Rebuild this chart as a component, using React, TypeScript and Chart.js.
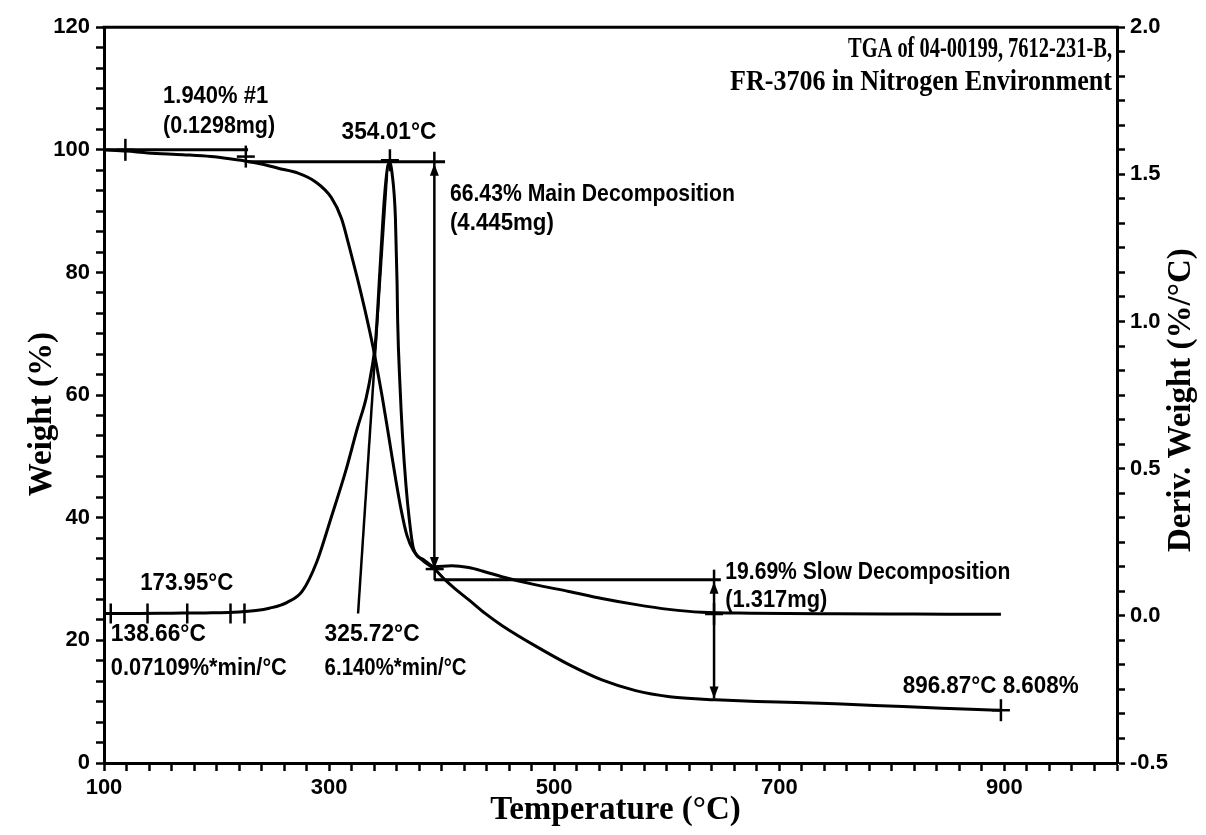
import React, { useEffect, useRef } from "react";
import { Chart, registerables } from "chart.js";

Chart.register(...registerables);

// ---------- data ----------
const weightTemps = [100, 120, 139, 170, 195, 213, 228, 242, 254.7, 272.4, 287.7, 302, 311, 317.5, 324.9, 331.3, 337.7, 342.4, 347.1, 351.8, 354.7, 359.4, 364.1, 369, 375, 384, 393.8, 402.8, 412, 424.2, 438.6, 453.8, 483.2, 513.6, 543, 572.3, 602.6, 631.8, 643.3, 680, 715.3, 750, 784.6, 830, 870, 896.87];
const weightValues = [100, 99.8, 99.5, 99.2, 98.9, 98.5, 98.1, 97.6, 97.0, 96.2, 94.8, 92.2, 88.8, 84.5, 79.2, 74.3, 69.0, 64.6, 59.8, 54.6, 51.3, 46.0, 41.2, 37.2, 34.6, 32.9, 31.6, 29.9, 28.4, 26.6, 24.4, 22.4, 19.1, 16.0, 13.5, 11.8, 10.8, 10.4, 10.3, 10.05, 9.87, 9.65, 9.38, 9.05, 8.75, 8.608];

const derivTemps = [100, 130, 160, 190, 220, 235, 246.9, 262.8, 276.0, 289.1, 302.0, 314.9, 325.2, 332.9, 338.0, 341.3, 345.2, 349.0, 351.8, 354.01, 355.8, 358.9, 360.4, 360.9, 363.0, 365.2, 368.3, 371.2, 375.0, 384.0, 393.8, 408.9, 424.0, 438.2, 453.4, 482.7, 512.9, 542.3, 571.6, 601.8, 631.1, 675.5, 750, 820, 896.87];
const derivValues = [0.008, 0.008, 0.009, 0.010, 0.013, 0.018, 0.026, 0.046, 0.083, 0.184, 0.336, 0.494, 0.639, 0.740, 0.841, 0.935, 1.178, 1.414, 1.522, 1.54, 1.508, 1.353, 1.127, 1.003, 0.780, 0.612, 0.443, 0.329, 0.228, 0.191, 0.167, 0.170, 0.164, 0.150, 0.133, 0.106, 0.083, 0.059, 0.039, 0.022, 0.012, 0.009, 0.007, 0.006, 0.005];

const xTickLabels = [100, 300, 500, 700, 900];
const weightTickLabels = [0, 20, 40, 60, 80, 100, 120];
const derivTickLabels = [-0.5, 0.0, 0.5, 1.0, 1.5, 2.0];

const titleLines = ["TGA of 04-00199, 7612-231-B,", "FR-3706 in Nitrogen Environment"];
const xTitle = "Temperature (°C)";
const yTitle = "Weight (%)";
const y2Title = "Deriv. Weight (%/°C)";

// annotation geometry, in data units
const stepLines = [
  [100, 228, 100],     // [tStart, tEnd, weight]
  [228, 403, 98.06],
  [393.5, 648, 29.9],
];
const stepArrows = [
  [393.5, 98.06, 31.63], // [t, weightTop, weightBottom]
  [642, 29.9, 10.5],
];
const tangentStart = [325.72, 0.008];
const tangentEnd = [351.4, 1.5];
const crossMarks = [
  [119, 100],
  [226, 98.9],
  [354.01, 98.3],
  [393.8, 31.63],
  [642, 24.3],
  [896.87, 8.608],
];
const baselineLevel = 0.008;
const baselineTicks = [106, 138.66, 173.95, 212.4, 224.8];

// annotation texts with their anchor temperature / weight
const noteTexts = ["1.940% #1", "(0.1298mg)", "354.01°C", "66.43% Main Decomposition", "(4.445mg)", "173.95°C", "138.66°C", "0.07109%*min/°C", "325.72°C", "6.140%*min/°C", "19.69% Slow Decomposition", "(1.317mg)", "896.87°C 8.608%"];
const noteTemps = [152.5, 152.5, 353.2, 407.3, 407.3, 132.2, 106.1, 106.1, 296, 296, 652, 652, 809.6];
const noteWeights = [108.7, 103.8, 102.9, 92.8, 88.0, 29.3, 20.9, 15.5, 20.9, 15.5, 31.1, 26.5, 12.45];

// ---------- rendering helpers ----------
const SANS = '"Liberation Sans Narrow", "Liberation Sans", Arial, sans-serif';
const SERIF = '"Liberation Serif", "Times New Roman", serif';
const noteMaxWidths = [105, 112, 95, 285, 104, 93, 95, 176, 95, 142, 285, 102, 176];

function stepRange(start: number, end: number, step: number) {
  const out: number[] = [];
  const n = Math.round((end - start) / step);
  for (let i = 0; i <= n; i++) out.push(start + i * step);
  return out;
}

function isOneOf(v: number, list: number[]) {
  return list.some((l) => Math.abs(l - v) < 1e-6);
}

function seg(ctx: CanvasRenderingContext2D, x1: number, y1: number, x2: number, y2: number) {
  ctx.beginPath();
  ctx.moveTo(x1, y1);
  ctx.lineTo(x2, y2);
  ctx.stroke();
}

function head(ctx: CanvasRenderingContext2D, x: number, y: number, dir: number) {
  ctx.beginPath();
  ctx.moveTo(x, y);
  ctx.lineTo(x - 4.5, y - dir * 12);
  ctx.lineTo(x + 4.5, y - dir * 12);
  ctx.closePath();
  ctx.fill();
}

const overlay = {
  id: "overlay",
  afterDraw(chart: any) {
    const { ctx, chartArea: a } = chart;
    const xs = chart.scales.x;
    const ys = chart.scales.y;
    const ds = chart.scales.y2;
    const px = (t: number) => xs.getPixelForValue(t);
    const pw = (w: number) => ys.getPixelForValue(w);
    const pd = (d: number) => ds.getPixelForValue(d);
    ctx.save();
    ctx.strokeStyle = "#000";
    ctx.fillStyle = "#000";

    // top frame line
    ctx.lineWidth = 3;
    seg(ctx, a.left - 1.5, a.top, a.right + 1.5, a.top);

    // step reference lines
    ctx.lineWidth = 3;
    stepLines.forEach(([t1, t2, w]) => seg(ctx, px(t1), pw(w), px(t2), pw(w)));

    // onset tangent
    ctx.lineWidth = 2.5;
    seg(ctx, px(tangentStart[0]), pd(tangentStart[1]), px(tangentEnd[0]), pd(tangentEnd[1]));

    // double arrows
    stepArrows.forEach(([t, wTop, wBot]) => {
      const x = px(t);
      const y1 = pw(wTop);
      const y2 = pw(wBot);
      ctx.lineWidth = 2.5;
      seg(ctx, x, y1 - 10, x, y2);
      head(ctx, x, y1 + 2, -1);
      head(ctx, x, y2, 1);
    });

    // cross marks
    ctx.lineWidth = 2.5;
    crossMarks.forEach(([t, w]) => {
      const x = px(t);
      const y = pw(w);
      seg(ctx, x, y - 11, x, y + 11);
      seg(ctx, x - 9, y, x + 9, y);
    });
    baselineTicks.forEach((t) => {
      const x = px(t);
      const y = pd(baselineLevel);
      seg(ctx, x, y - 10, x, y + 10);
    });

    // annotation texts
    ctx.textBaseline = "middle";
    ctx.font = `bold 24px ${SANS}`;
    noteTexts.forEach((text, i) => {
      const centered = text === "354.01°C";
      ctx.textAlign = centered ? "center" : "left";
      ctx.fillText(text, px(noteTemps[i]), pw(noteWeights[i]), noteMaxWidths[i]);
    });

    // title
    ctx.font = `bold 29px ${SERIF}`;
    ctx.textAlign = "right";
    ctx.fillText(titleLines[0], a.right - 5, a.top + 22, 264);
    ctx.fillText(titleLines[1], a.right - 5, a.top + 55, 382);

    // axis titles
    ctx.font = `bold 33px ${SERIF}`;
    ctx.textAlign = "center";
    ctx.fillText(xTitle, (a.left + a.right) / 2 + 5, a.bottom + 47);

    ctx.save();
    ctx.translate(a.left - 62, (a.top + a.bottom) / 2 + 19);
    ctx.rotate(-Math.PI / 2);
    ctx.fillText(yTitle, 0, 0);
    ctx.restore();

    ctx.save();
    ctx.translate(a.right + 64, (a.top + a.bottom) / 2 + 5);
    ctx.rotate(-Math.PI / 2);
    ctx.fillText(y2Title, 0, 0);
    ctx.restore();

    ctx.restore();
  },
};

export default function App() {
  const canvasRef = useRef<HTMLCanvasElement | null>(null);

  useEffect(() => {
    const canvas = canvasRef.current;
    if (!canvas) return;
    const tickFont = { family: SANS, size: 22, weight: "bold" as const };
    const gridCfg = {
      display: true,
      drawOnChartArea: false,
      drawTicks: true,
      tickLength: 8,
      tickWidth: 2.5,
      color: "#000",
    };
    const borderCfg = { display: true, width: 3, color: "#000" };

    const chart = new Chart(canvas, {
      type: "line",
      data: {
        datasets: [
          {
            label: "Weight",
            data: weightTemps.map((t, i) => ({ x: t, y: weightValues[i] })),
            yAxisID: "y",
            borderColor: "#000",
            borderWidth: 3,
            pointRadius: 0,
            cubicInterpolationMode: "monotone",
            fill: false,
          },
          {
            label: "Deriv. Weight",
            data: derivTemps.map((t, i) => ({ x: t, y: derivValues[i] })),
            yAxisID: "y2",
            borderColor: "#000",
            borderWidth: 3,
            pointRadius: 0,
            cubicInterpolationMode: "monotone",
            fill: false,
          },
        ],
      },
      options: {
        animation: false,
        responsive: false,
        devicePixelRatio: 1,
        layout: { padding: { top: 13, left: 0, right: 0, bottom: 0 } },
        plugins: { legend: { display: false }, tooltip: { enabled: false }, title: { display: false } },
        scales: {
          x: {
            type: "linear",
            min: 100,
            max: 1000,
            afterBuildTicks: (axis: any) => {
              axis.ticks = stepRange(100, 1000, 20).map((v) => ({ value: v }));
            },
            afterFit: (scale: any) => {
              scale.height = 64;
            },
            ticks: {
              autoSkip: false,
              maxRotation: 0,
              padding: 4,
              color: "#000",
              font: tickFont,
              callback: (v: any) => (isOneOf(Number(v), xTickLabels) ? String(v) : ""),
            },
            grid: gridCfg,
            border: borderCfg,
          },
          y: {
            type: "linear",
            position: "left",
            min: 0,
            max: 120,
            afterBuildTicks: (axis: any) => {
              axis.ticks = stepRange(0, 120, 20 / 6).map((v) => ({ value: v }));
            },
            afterFit: (scale: any) => {
              scale.width = 96;
            },
            ticks: {
              autoSkip: false,
              padding: 6,
              color: "#000",
              font: tickFont,
              callback: (v: any) => {
                const n = Number(v);
                const m = weightTickLabels.find((l) => Math.abs(l - n) < 1e-6);
                return m === undefined ? "" : String(m);
              },
            },
            grid: gridCfg,
            border: borderCfg,
          },
          y2: {
            type: "linear",
            position: "right",
            min: -0.5,
            max: 2.0,
            afterBuildTicks: (axis: any) => {
              axis.ticks = stepRange(-0.5, 2.0, 0.5 / 6).map((v) => ({ value: v }));
            },
            afterFit: (scale: any) => {
              scale.width = 81;
            },
            ticks: {
              autoSkip: false,
              padding: 5,
              color: "#000",
              font: tickFont,
              callback: (v: any) => {
                const n = Number(v);
                const m = derivTickLabels.find((l) => Math.abs(l - n) < 1e-6);
                return m === undefined ? "" : m.toFixed(1);
              },
            },
            grid: gridCfg,
            border: borderCfg,
          },
        },
      } as any,
      plugins: [overlay],
    });
    return () => chart.destroy();
  }, []);

  return (
    <div style={{ width: 1190, height: 819, background: "#fff" }}>
      <canvas ref={canvasRef} width={1190} height={819} style={{ display: "block" }} />
    </div>
  );
}
